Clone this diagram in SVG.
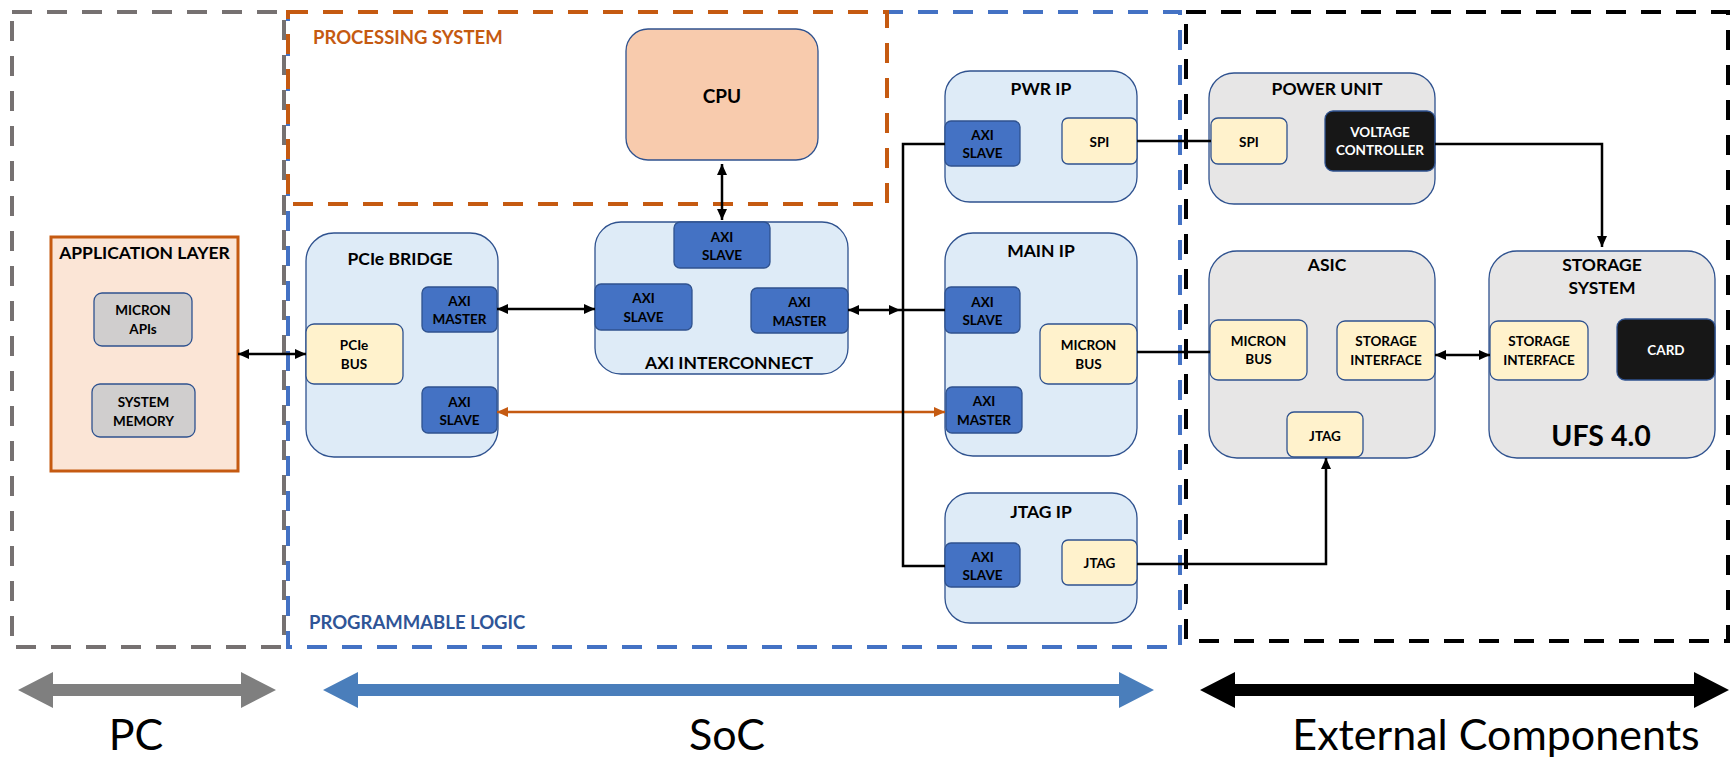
<svg xmlns="http://www.w3.org/2000/svg" width="1734" height="760" viewBox="0 0 1734 760">
  <defs>
    <style>
      .t { font-family: Lato, "Liberation Sans", sans-serif; font-weight: 700; fill: #000; text-anchor: middle; dominant-baseline: central; }
      .title { font-size: 17.5px; }
      .lbl { font-size: 13.5px; }
      .wht { fill: #fff; }
      .region { fill: none; stroke-width: 4; stroke-dasharray: 20 15; }
      .big { font-family: Lato, "Liberation Sans", sans-serif; font-size: 43px; fill: #000; text-anchor: middle; }
      .ip { fill: #DEEBF7; stroke: #2F528F; stroke-width: 1.3; }
      .ext { fill: #E7E6E6; stroke: #2F528F; stroke-width: 1.3; }
      .axi { fill: #4472C4; stroke: #2F528F; stroke-width: 1.3; }
      .yel { fill: #FFF2CC; stroke: #2F528F; stroke-width: 1.3; }
      .gry { fill: #D0CECE; stroke: #2F528F; stroke-width: 1.3; }
      .blk { fill: #171717; stroke: #2F528F; stroke-width: 1.3; }
      .wire { fill: none; stroke: #000; stroke-width: 2.5; }
      .owire { fill: none; stroke: #C55A11; stroke-width: 2.5; }
    </style>
    <marker id="ah" markerUnits="userSpaceOnUse" markerWidth="11" markerHeight="10" refX="11" refY="5" orient="auto-start-reverse">
      <path d="M0,0 L11,5 L0,10 z" fill="#000"/>
    </marker>
    <marker id="ahO" markerUnits="userSpaceOnUse" markerWidth="11" markerHeight="10" refX="11" refY="5" orient="auto-start-reverse">
      <path d="M0,0 L11,5 L0,10 z" fill="#C55A11"/>
    </marker>
  </defs>

  <rect width="1734" height="760" fill="#fff"/>

  <!-- dashed domain outlines -->
  <g id="regions">
    <rect class="region" x="12" y="12" width="272" height="635" stroke="#767171"/>
    <rect class="region" x="288" y="12" width="892" height="635" stroke="#4472C4"/>
    <rect class="region" x="288" y="12" width="599" height="192" stroke="#C55A11"/>
    <rect class="region" x="1186" y="12" width="542" height="629" stroke="#000"/>
    <text class="t" x="313" y="37" style="font-size:18.5px;fill:#C55A11;text-anchor:start">PROCESSING SYSTEM</text>
    <text class="t" x="309" y="622" style="font-size:18.5px;fill:#2F5597;text-anchor:start">PROGRAMMABLE LOGIC</text>
  </g>

  <!-- host side -->
  <g id="application-layer">
    <rect x="51" y="237" width="187" height="234" fill="#FBE5D6" stroke="#C55A11" stroke-width="3"/>
    <text class="t title" x="144.5" y="252">APPLICATION LAYER</text>
  </g>
  <g id="micron-apis">
    <rect class="gry" x="94" y="293" width="98" height="53" rx="8"/>
    <text class="t lbl" x="143" y="310">MICRON</text>
    <text class="t lbl" x="143" y="329">APIs</text>
  </g>
  <g id="system-memory">
    <rect class="gry" x="92" y="384" width="103" height="53" rx="8"/>
    <text class="t lbl" x="143.5" y="402">SYSTEM</text>
    <text class="t lbl" x="143.5" y="421">MEMORY</text>
  </g>

  <!-- processing system -->
  <g id="cpu">
    <rect x="626" y="29" width="192" height="131" rx="22" fill="#F8CBAD" stroke="#2F528F" stroke-width="1.3"/>
    <text class="t" x="722" y="95" style="font-size:19px">CPU</text>
  </g>

  <!-- PCIe bridge -->
  <g id="pcie-bridge">
    <rect class="ip" x="306" y="233" width="192" height="224" rx="28"/>
    <text class="t title" x="400" y="258">PCIe BRIDGE</text>
  </g>
  <g id="pcie-bus">
    <rect class="yel" x="306" y="324" width="97" height="60" rx="8"/>
    <text class="t lbl" x="354" y="345">PCIe</text>
    <text class="t lbl" x="354" y="364">BUS</text>
  </g>
  <g id="pcie-axi-master">
    <rect class="axi" x="422" y="287" width="75" height="45" rx="6"/>
    <text class="t lbl" x="459.5" y="301">AXI</text>
    <text class="t lbl" x="459.5" y="319">MASTER</text>
  </g>
  <g id="pcie-axi-slave">
    <rect class="axi" x="422" y="387" width="75" height="46" rx="6"/>
    <text class="t lbl" x="459.5" y="402">AXI</text>
    <text class="t lbl" x="459.5" y="420">SLAVE</text>
  </g>

  <!-- AXI interconnect -->
  <g id="axi-interconnect">
    <rect class="ip" x="595" y="222" width="253" height="152" rx="26"/>
    <text class="t title" x="729" y="362">AXI INTERCONNECT</text>
  </g>
  <g id="ic-axi-slave-top">
    <rect class="axi" x="674" y="222" width="96" height="46" rx="6"/>
    <text class="t lbl" x="722" y="237">AXI</text>
    <text class="t lbl" x="722" y="255">SLAVE</text>
  </g>
  <g id="ic-axi-slave-left">
    <rect class="axi" x="595" y="284" width="97" height="46" rx="6"/>
    <text class="t lbl" x="643.5" y="298">AXI</text>
    <text class="t lbl" x="643.5" y="317">SLAVE</text>
  </g>
  <g id="ic-axi-master">
    <rect class="axi" x="751" y="288" width="97" height="45" rx="6"/>
    <text class="t lbl" x="799.5" y="302">AXI</text>
    <text class="t lbl" x="799.5" y="321">MASTER</text>
  </g>

  <!-- PWR IP -->
  <g id="pwr-ip">
    <rect class="ip" x="945" y="71" width="192" height="131" rx="25"/>
    <text class="t title" x="1041" y="88">PWR IP</text>
  </g>
  <g id="pwr-axi-slave">
    <rect class="axi" x="945" y="121" width="75" height="45" rx="6"/>
    <text class="t lbl" x="982.5" y="135">AXI</text>
    <text class="t lbl" x="982.5" y="153">SLAVE</text>
  </g>
  <g id="pwr-spi">
    <rect class="yel" x="1062" y="118" width="75" height="46" rx="6"/>
    <text class="t lbl" x="1099.5" y="142">SPI</text>
  </g>

  <!-- MAIN IP -->
  <g id="main-ip">
    <rect class="ip" x="945" y="233" width="192" height="223" rx="28"/>
    <text class="t title" x="1041" y="250">MAIN IP</text>
  </g>
  <g id="main-axi-slave">
    <rect class="axi" x="945" y="287" width="75" height="46" rx="6"/>
    <text class="t lbl" x="982.5" y="302">AXI</text>
    <text class="t lbl" x="982.5" y="320">SLAVE</text>
  </g>
  <g id="main-micron-bus">
    <rect class="yel" x="1040" y="324" width="97" height="60" rx="8"/>
    <text class="t lbl" x="1088.5" y="345">MICRON</text>
    <text class="t lbl" x="1088.5" y="364">BUS</text>
  </g>
  <g id="main-axi-master">
    <rect class="axi" x="946" y="387" width="76" height="46" rx="6"/>
    <text class="t lbl" x="984" y="401">AXI</text>
    <text class="t lbl" x="984" y="420">MASTER</text>
  </g>

  <!-- JTAG IP -->
  <g id="jtag-ip">
    <rect class="ip" x="945" y="493" width="192" height="130" rx="25"/>
    <text class="t title" x="1041" y="511">JTAG IP</text>
  </g>
  <g id="jtag-axi-slave">
    <rect class="axi" x="945" y="543" width="75" height="44" rx="6"/>
    <text class="t lbl" x="982.5" y="557">AXI</text>
    <text class="t lbl" x="982.5" y="575">SLAVE</text>
  </g>
  <g id="jtag-ip-port">
    <rect class="yel" x="1062" y="540" width="75" height="45" rx="6"/>
    <text class="t lbl" x="1099.5" y="563">JTAG</text>
  </g>

  <!-- external components -->
  <g id="power-unit">
    <rect class="ext" x="1209" y="73" width="226" height="131" rx="25"/>
    <text class="t title" x="1327" y="88">POWER UNIT</text>
  </g>
  <g id="pu-spi">
    <rect class="yel" x="1211" y="118" width="76" height="46" rx="7"/>
    <text class="t lbl" x="1249" y="142">SPI</text>
  </g>
  <g id="voltage-controller">
    <rect class="blk" x="1325" y="111" width="110" height="60" rx="8"/>
    <text class="t lbl wht" x="1380" y="132">VOLTAGE</text>
    <text class="t lbl wht" x="1380" y="150">CONTROLLER</text>
  </g>

  <g id="asic">
    <rect class="ext" x="1209" y="251" width="226" height="207" rx="28"/>
    <text class="t title" x="1327" y="264">ASIC</text>
  </g>
  <g id="asic-micron-bus">
    <rect class="yel" x="1210" y="320" width="97" height="60" rx="8"/>
    <text class="t lbl" x="1258.5" y="341">MICRON</text>
    <text class="t lbl" x="1258.5" y="359">BUS</text>
  </g>
  <g id="asic-storage-interface">
    <rect class="yel" x="1337" y="321" width="98" height="59" rx="8"/>
    <text class="t lbl" x="1386" y="341">STORAGE</text>
    <text class="t lbl" x="1386" y="360">INTERFACE</text>
  </g>
  <g id="asic-jtag">
    <rect class="yel" x="1287" y="412" width="76" height="45" rx="7"/>
    <text class="t lbl" x="1325" y="436">JTAG</text>
  </g>

  <g id="storage-system">
    <rect class="ext" x="1489" y="251" width="226" height="207" rx="28"/>
    <text class="t title" x="1602" y="264">STORAGE</text>
    <text class="t title" x="1602" y="287">SYSTEM</text>
    <text class="t" x="1601" y="435" style="font-size:28.5px">UFS 4.0</text>
  </g>
  <g id="ss-storage-interface">
    <rect class="yel" x="1490" y="321" width="98" height="59" rx="8"/>
    <text class="t lbl" x="1539" y="341">STORAGE</text>
    <text class="t lbl" x="1539" y="360">INTERFACE</text>
  </g>
  <g id="card">
    <rect class="blk" x="1617" y="319" width="98" height="61" rx="8"/>
    <text class="t lbl wht" x="1666" y="350">CARD</text>
  </g>

  <!-- connectors -->
  <g id="connectors">
    <line class="wire" x1="238" y1="354" x2="306" y2="354" marker-start="url(#ah)" marker-end="url(#ah)"/>
    <line class="wire" x1="497" y1="309" x2="595" y2="309" marker-start="url(#ah)" marker-end="url(#ah)"/>
    <line class="owire" x1="497" y1="412" x2="945" y2="412" marker-start="url(#ahO)" marker-end="url(#ahO)"/>
    <line class="wire" x1="722" y1="164" x2="722" y2="220" marker-start="url(#ah)" marker-end="url(#ah)"/>
    <line class="wire" x1="848" y1="310" x2="900" y2="310" marker-start="url(#ah)" marker-end="url(#ah)"/>
    <!-- AXI bus fan-out to the IP slaves -->
    <polyline class="wire" points="945,144 903,144 903,566 945,566"/>
    <line class="wire" x1="900" y1="310" x2="945" y2="310"/>
    <line class="wire" x1="1137" y1="141" x2="1211" y2="141"/>
    <line class="wire" x1="1137" y1="352" x2="1210" y2="352"/>
    <polyline class="wire" points="1435,144 1602,144 1602,247" marker-end="url(#ah)"/>
    <line class="wire" x1="1435" y1="355" x2="1490" y2="355" marker-start="url(#ah)" marker-end="url(#ah)"/>
    <polyline class="wire" points="1137,564 1326,564 1326,458" marker-end="url(#ah)"/>
  </g>

  <!-- domain span arrows -->
  <g id="span-arrows">
    <path d="M18,690 L53,672 L53,684 L241,684 L241,672 L276,690 L241,708 L241,696 L53,696 L53,708 z" fill="#7F7F7F"/>
    <path d="M323,690 L358,672 L358,684 L1119,684 L1119,672 L1154,690 L1119,708 L1119,696 L358,696 L358,708 z" fill="#4A7EBB"/>
    <path d="M1200,690 L1235,672 L1235,684 L1694,684 L1694,672 L1729,690 L1694,708 L1694,696 L1235,696 L1235,708 z" fill="#000"/>
    <text class="big" x="136" y="750">PC</text>
    <text class="big" x="727" y="750">SoC</text>
    <text class="big" x="1496" y="750">External Components</text>
  </g>
</svg>
